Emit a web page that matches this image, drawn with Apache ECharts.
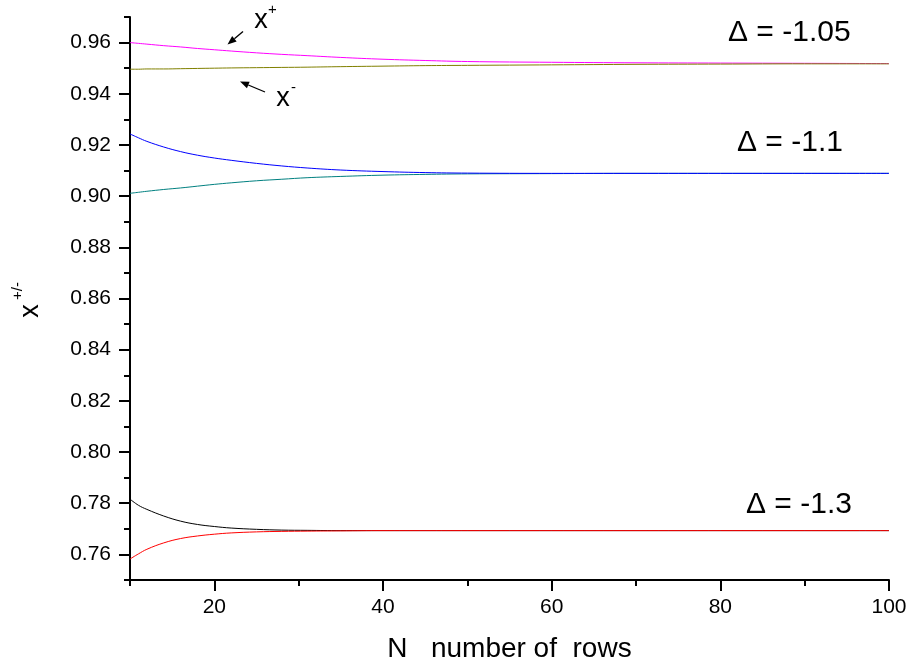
<!DOCTYPE html>
<html>
<head>
<meta charset="utf-8">
<script src="https://cdn.jsdelivr.net/npm/echarts@6.0.0/dist/echarts.min.js"></script>
<style>
  html, body { margin: 0; padding: 0; background: #fff; }
  #chart { width: 910px; height: 664px; }
</style>
</head>
<body>
<div id="chart"></div>
<script>
  // N, number of rows
  const N = [10, 11, 12, 14, 16, 18, 20, 22, 25, 28, 31, 35, 40, 45, 50, 60, 70, 80, 90, 100]

  // delta = -1.05
  const xPlus105 = [0.9600, 0.9597, 0.9594, 0.9588, 0.9583, 0.9577, 0.9572, 0.9567, 0.9560, 0.9554, 0.9549, 0.9542, 0.9535, 0.9530, 0.9526, 0.9523, 0.9521, 0.9520, 0.9519, 0.9518]
  const xMinus105 = [0.9496, 0.9496, 0.9497, 0.9497, 0.9498, 0.9499, 0.9500, 0.9501, 0.9502, 0.9503, 0.9504, 0.9506, 0.9508, 0.9510, 0.9511, 0.9513, 0.9515, 0.9516, 0.9517, 0.9517]
  // delta = -1.1
  const xPlus11 = [0.9243, 0.9228, 0.9214, 0.9192, 0.9174, 0.9160, 0.9149, 0.9140, 0.9128, 0.9118, 0.9110, 0.9102, 0.9096, 0.9092, 0.9090, 0.9089, 0.9089, 0.9089, 0.9089, 0.9089]
  const xMinus11 = [0.9011, 0.9015, 0.9019, 0.9026, 0.9032, 0.9039, 0.9046, 0.9052, 0.9060, 0.9066, 0.9072, 0.9077, 0.9082, 0.9085, 0.9087, 0.9088, 0.9089, 0.9089, 0.9089, 0.9089]
  // delta = -1.3
  const xPlus13 = [0.7816, 0.7792, 0.7776, 0.7750, 0.7730, 0.7717, 0.7709, 0.7703, 0.7698, 0.7695, 0.7694, 0.7693, 0.7693, 0.7693, 0.7693, 0.7693, 0.7693, 0.7693, 0.7693, 0.7693]
  const xMinus13 = [0.7582, 0.7602, 0.7620, 0.7645, 0.7662, 0.7672, 0.7679, 0.7684, 0.7688, 0.7690, 0.7691, 0.7692, 0.7693, 0.7693, 0.7693, 0.7693, 0.7693, 0.7693, 0.7693, 0.7693]

  // ticks
  const xTicks = [20, 40, 60, 80, 100]
  const xMinorTicks = [10, 30, 50, 70, 90]
  const yTicks = [0.76, 0.78, 0.80, 0.82, 0.84, 0.86, 0.88, 0.90, 0.92, 0.94, 0.96]
  const yMinorTicks = [0.75, 0.77, 0.79, 0.81, 0.83, 0.85, 0.87, 0.89, 0.91, 0.93, 0.95, 0.97]

  const FONT = 'Liberation Sans, Arial, sans-serif'

  function pairs(ys) {
    return N.map((n, i) => [n, ys[i]])
  }

  function line(name, ys, color) {
    return {
      name: name,
      type: 'line',
      showSymbol: false,
      smooth: 0.4,
      lineStyle: { color: color, width: 1 },
      itemStyle: { color: color },
      data: pairs(ys),
      silent: true,
      z: 3
    }
  }

  // arrow helper for the x+ / x- pointers
  function arrow(x1, y1, x2, y2) {
    const dx = x2 - x1, dy = y2 - y1
    const len = Math.sqrt(dx * dx + dy * dy)
    const ux = dx / len, uy = dy / len
    const hl = 9, hw = 3.5
    const bx = x2 - ux * hl, by = y2 - uy * hl
    return [
      { type: 'line', shape: { x1: x1, y1: y1, x2: bx, y2: by }, style: { stroke: '#000', lineWidth: 1.3 } },
      { type: 'polygon', shape: { points: [[x2, y2], [bx - uy * hw, by + ux * hw], [bx + uy * hw, by - ux * hw]] }, style: { fill: '#000' } }
    ]
  }

  function txt(x, y, text, size, rot) {
    return {
      type: 'text', x: x, y: y, rotation: rot || 0,
      style: { text: text, font: size + 'px ' + FONT, fill: '#000', align: 'center', verticalAlign: 'middle' }
    }
  }

  function deltaTxt(left, y, text) {
    return {
      type: 'text', x: left, y: y,
      style: { text: text, font: '30px ' + FONT, fill: '#000', align: 'left', verticalAlign: 'middle' }
    }
  }

  const axisBase = {
    type: 'value',
    axisLine: { show: true, lineStyle: { color: '#000', width: 2 } },
    splitLine: { show: false }
  }

  let chart = echarts.init(document.getElementById('chart'))
  let option = {
    backgroundColor: '#fff',
    animation: false,
    grid: { left: 130, right: 21, top: 17, bottom: 84, outerBoundsMode: 'none' },
    xAxis: [
      Object.assign({}, axisBase, {
        min: 10, max: 100,
        name: 'N   number of  rows',
        nameLocation: 'middle',
        nameGap: 55,
        nameTextStyle: { fontFamily: FONT, fontSize: 28, color: '#000' },
        axisTick: { show: true, length: 11, lineStyle: { color: '#000', width: 2 }, customValues: xTicks },
        axisLabel: { fontFamily: FONT, fontSize: 21, color: '#000', margin: 17, customValues: xTicks }
      }),
      Object.assign({}, axisBase, {
        min: 10, max: 100,
        position: 'bottom',
        axisLine: { show: false },
        axisTick: { show: true, length: 6, lineStyle: { color: '#000', width: 2 }, customValues: xMinorTicks },
        axisLabel: { show: false }
      })
    ],
    yAxis: [
      Object.assign({}, axisBase, {
        min: 0.75, max: 0.97,
        position: 'left',
        axisTick: { show: true, length: 11, lineStyle: { color: '#000', width: 2 }, customValues: yTicks },
        axisLabel: {
          fontFamily: FONT, fontSize: 21, color: '#000', margin: 19,
          customValues: yTicks,
          formatter: v => v.toFixed(2)
        }
      }),
      Object.assign({}, axisBase, {
        min: 0.75, max: 0.97,
        position: 'left',
        axisLine: { show: false },
        axisTick: { show: true, length: 6, lineStyle: { color: '#000', width: 2 }, customValues: yMinorTicks },
        axisLabel: { show: false }
      })
    ],
    series: [
      line('x+ -1.05', xPlus105, '#ff00ff'),
      line('x- -1.05', xMinus105, '#808000'),
      line('x- -1.1', xMinus11, '#008080'),
      line('x+ -1.1', xPlus11, '#0000ff'),
      line('x+ -1.3', xPlus13, '#000000'),
      line('x- -1.3', xMinus13, '#ff0000')
    ],
    graphic: [
      // y axis title x^{+/-}
      txt(31, 311, 'x', 27, Math.PI / 2),
      txt(17.5, 291, '+/-', 15, Math.PI / 2),
      // pointers
      txt(261, 21, 'x', 27),
      txt(272.5, 10, '+', 15),
      txt(283, 99, 'x', 27),
      txt(293.5, 88, '-', 15),
      ...arrow(243, 31.5, 227.5, 44.5),
      ...arrow(265, 92, 240, 81.5),
      // delta labels
      deltaTxt(728, 33, 'Δ = -1.05'),
      deltaTxt(737, 143, 'Δ = -1.1'),
      deltaTxt(746, 505, 'Δ = -1.3')
    ]
  }

  chart.setOption(option)
  window.addEventListener('resize', function () {
    chart.resize()
  })
</script>
</body>
</html>
